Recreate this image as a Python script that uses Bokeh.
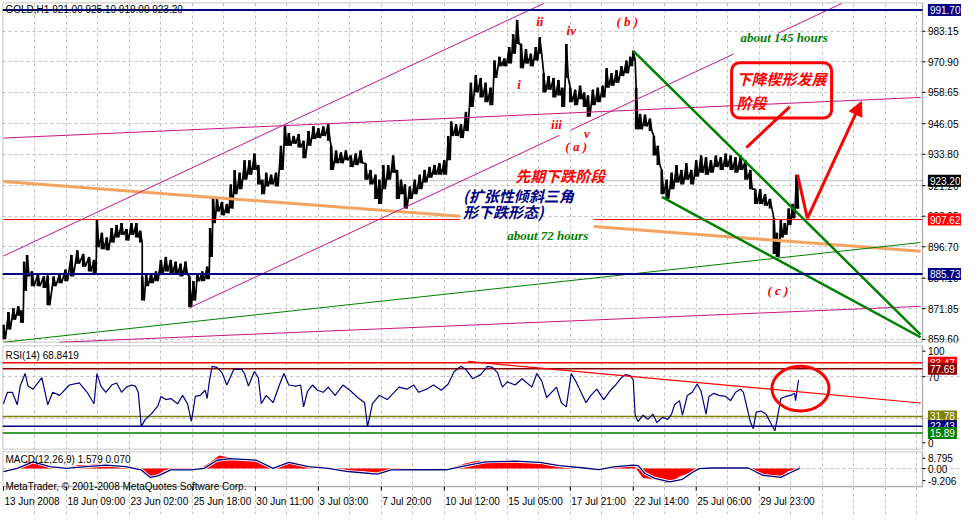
from bokeh.plotting import figure
from bokeh.layouts import column
from bokeh.models import Range1d, FixedTicker, Label, Arrow, NormalHead, BoxAnnotation
from bokeh.embed import file_html
from bokeh.resources import INLINE

# ---------------- data ----------------
# bar index (1 = one H1 bar), high / low of the price cloud
bar_idx = [0, 5, 10, 15, 18, 21, 24, 29, 35, 41,
           45, 51, 57, 63, 69, 75, 81, 87, 92, 95,
           100, 105, 110, 115, 120, 125, 130, 135, 139, 141,
           145, 150, 155, 160, 165, 170, 175, 180, 185, 189,
           193, 197, 202, 207, 210, 213, 217, 222, 227, 231,
           235, 240, 245, 250, 255, 259, 263, 267, 272, 277,
           282, 286, 290, 295, 300, 305, 310, 315, 320, 325,
           330, 333, 338, 343, 348, 353, 358, 363, 368, 373,
           378, 382, 386, 391, 396, 400, 404, 408, 413, 418,
           423, 428, 433, 438, 443, 448, 452, 455, 460, 465,
           470, 475, 480, 485, 490, 495, 499, 504, 509, 514,
           518, 522, 526, 531, 536, 541, 545, 549, 554, 559,
           564, 568, 572, 576, 581, 586, 590, 594, 599, 604,
           609, 613, 618, 623, 628, 633, 637, 640, 643, 647,
           652, 657, 661, 665, 669, 674, 679, 684, 689, 694,
           699, 704, 709, 714, 719, 724, 729, 734, 739, 744,
           749, 754, 759, 764, 769, 774, 779, 783, 786, 790,
           794, 798, 802, 806]
bar_high = [865.4, 870.5, 872.0, 872.8, 871.2, 890.7, 893.4, 886.8, 885.6, 884.8,
            885.2, 884.8, 885.6, 887.5, 893.4, 895.3, 893.8, 892.6, 891.4, 907.3,
            902.3, 900.4, 904.2, 905.4, 906.2, 903.8, 906.2, 906.2, 903.1, 884.8,
            885.6, 886.0, 886.8, 891.4, 892.6, 891.4, 890.7, 889.9, 890.7, 884.8,
            882.9, 886.0, 886.8, 888.7, 904.2, 916.7, 915.9, 914.7, 913.9, 921.7,
            927.5, 926.4, 931.4, 931.4, 934.1, 929.5, 923.6, 926.4, 925.6, 926.4,
            937.2, 945.0, 942.3, 941.1, 941.9, 939.2, 943.1, 945.0, 944.2, 945.0,
            945.8, 937.2, 935.3, 934.5, 935.3, 933.3, 934.1, 935.3, 930.2, 927.5,
            925.6, 923.6, 929.5, 929.5, 933.3, 927.5, 923.6, 921.7, 920.9, 923.6,
            925.6, 927.5, 928.7, 929.5, 930.2, 931.4, 941.1, 946.9, 945.8, 945.8,
            950.8, 962.5, 965.6, 964.4, 962.5, 960.5, 971.4, 972.9, 972.2, 976.8,
            981.9, 987.7, 978.0, 976.0, 974.1, 976.8, 980.7, 966.3, 965.2, 964.4,
            963.6, 960.5, 978.0, 960.5, 959.7, 961.3, 958.6, 957.4, 959.7, 960.5,
            961.3, 968.3, 966.3, 967.5, 969.1, 971.4, 972.9, 975.3, 960.5, 950.0,
            949.7, 948.1, 941.1, 937.2, 927.5, 923.6, 926.4, 929.5, 927.5, 930.2,
            927.5, 931.4, 933.3, 932.6, 931.4, 933.3, 932.6, 934.1, 933.3, 932.6,
            933.3, 931.4, 927.5, 919.8, 919.8, 917.8, 915.9, 908.1, 902.3, 907.3,
            906.2, 912.0, 913.9, 925.6]
bar_low = [859.6, 863.5, 867.4, 869.0, 866.2, 879.0, 884.8, 880.9, 880.9, 880.2,
           873.2, 880.9, 882.1, 882.9, 884.8, 889.9, 888.7, 886.8, 886.0, 896.5,
           895.7, 895.3, 898.4, 900.4, 901.5, 899.2, 901.5, 900.4, 898.4, 875.1,
           880.9, 882.1, 882.9, 885.6, 886.8, 886.0, 885.6, 884.8, 885.6, 872.4,
           875.1, 882.9, 882.9, 883.7, 892.6, 906.2, 910.8, 909.3, 910.1, 912.0,
           917.8, 919.8, 923.6, 925.6, 927.5, 921.7, 917.8, 920.9, 921.7, 920.9,
           927.5, 937.2, 937.2, 938.0, 936.5, 932.2, 937.2, 939.9, 940.3, 941.1,
           939.2, 927.5, 930.2, 930.2, 931.4, 928.7, 929.5, 930.2, 923.6, 921.7,
           915.9, 913.9, 919.8, 923.6, 926.4, 915.9, 917.8, 912.0, 915.9, 917.8,
           919.8, 922.5, 924.4, 925.6, 925.6, 925.6, 931.4, 941.1, 941.1, 940.3,
           943.1, 952.8, 958.6, 956.6, 954.7, 953.5, 964.4, 969.1, 969.1, 970.2,
           974.1, 978.0, 968.3, 970.2, 969.1, 971.4, 974.1, 958.6, 959.7, 956.6,
           957.4, 952.8, 964.4, 954.7, 953.5, 955.9, 952.8, 948.9, 953.5, 954.7,
           956.6, 960.5, 961.3, 962.5, 965.2, 966.3, 969.1, 971.4, 943.8, 943.8,
           945.0, 943.1, 933.3, 929.5, 917.8, 915.9, 919.8, 922.5, 921.7, 923.6,
           921.7, 924.8, 926.4, 925.6, 926.4, 928.7, 927.5, 928.7, 927.5, 926.4,
           927.5, 923.6, 919.8, 913.9, 913.9, 913.2, 912.0, 893.8, 892.6, 900.4,
           901.5, 905.4, 908.1, 912.0]
last_bar = 807
last_close = 923.20

price_ticks = [983.15, 970.90, 958.65, 946.05, 933.80, 921.20, 908.95, 896.70, 884.10, 871.85, 859.60]

# drawn objects (bar0, price0, bar1, price1)
magenta_lines = [(0, 893.0, 549, 994.3),
                 (190, 872.4, 565, 941.4), (577, 943.6, 742, 974.0), (787, 982.3, 852, 994.3),
                 (0, 940.3, 932, 956.6),
                 (57, 858.4, 932, 872.8)]
green_thin = [(0, 858.4, 932, 898.4)]
green_wedge = [(640, 975.3, 932, 861.5), (669, 916.7, 932, 860.4)]
orange_lines = [(0, 922.9, 464, 908.9), (600, 904.8, 932, 894.9)]
red_level = 907.62
red_level_parts = [(0, 464), (600, 934)]
navy_levels = [991.70, 885.73]

# RSI(14)
rsi_idx = [0, 4, 9, 14, 17, 22, 25, 30, 39, 42, 45, 50, 57, 67, 77, 85, 92, 95, 99, 104,
           110, 115, 120, 125, 130, 134, 137, 140, 144, 150, 157, 160, 165, 170, 177, 182, 187, 191, 195, 200,
           205, 207, 209, 212, 217, 222, 227, 234, 242, 245, 249, 255, 259, 262, 267, 274, 280, 285, 290, 297,
           302, 305, 309, 314, 319, 325, 330, 337, 345, 352, 360, 367, 370, 375, 382, 390, 397, 402, 410, 417,
           422, 430, 437, 445, 452, 458, 465, 470, 477, 485, 492, 497, 502, 507, 512, 520, 527, 537, 542, 547,
           552, 557, 562, 567, 572, 577, 582, 587, 592, 597, 603, 610, 617, 622, 627, 632, 637, 640, 642, 645,
           650, 655, 660, 664, 670, 675, 679, 682, 687, 690, 695, 700, 705, 709, 714, 717, 722, 727, 734, 739,
           744, 749, 752, 755, 759, 762, 765, 770, 775, 780, 784, 787, 790, 795, 800, 804, 805, 808]
rsi_val = [44, 55, 55, 43, 61, 73, 61, 58, 69, 56, 43, 55, 52, 62, 64, 55, 44, 73, 61, 55,
           62, 64, 55, 60, 62, 61, 55, 22, 29, 34, 42, 51, 48, 49, 44, 52, 44, 27, 51, 52,
           57, 49, 64, 80, 79, 74, 62, 77, 77, 73, 61, 75, 69, 44, 52, 45, 61, 73, 62, 61,
           62, 41, 56, 62, 57, 55, 60, 52, 62, 57, 50, 45, 22, 44, 52, 48, 55, 60, 58, 62,
           55, 58, 62, 57, 63, 75, 80, 77, 68, 72, 80, 79, 74, 60, 65, 62, 68, 60, 73, 66,
           50, 55, 60, 45, 41, 73, 65, 55, 45, 52, 58, 48, 57, 62, 68, 72, 71, 67, 33, 27,
           33, 29, 34, 26, 31, 29, 34, 43, 47, 33, 52, 55, 63, 56, 34, 51, 54, 52, 51, 47,
           55, 58, 55, 43, 27, 20, 36, 37, 34, 25, 18, 33, 49, 51, 52, 54, 47, 67]
rsi_levels = [(83.47, "#ff0000"), (77.69, "#8b0000"), (31.78, "#808000"), (22.43, "#000080"), (15.89, "#008000")]
rsi_ticks = [(94.5, "100"), (70, "70"), (6.5, "0")]
rsi_trend = (472, 84.7, 932, 44.7)
rsi_circle = (810, 58.6, 58, 43)

# MACD(12,26,9)
macd_idx = [0, 17, 24, 30, 40, 54, 64, 77, 87, 97, 104, 117, 130, 139, 144, 150, 157, 164, 184, 192,
            200, 210, 219, 227, 237, 254, 264, 274, 287, 297, 307, 320, 330, 347, 364, 380, 394, 410, 430, 450,
            462, 472, 482, 497, 512, 527, 542, 557, 572, 587, 597, 609, 614, 620, 630, 637, 640, 645, 650, 664,
            674, 680, 687, 697, 704, 715, 735, 757, 760, 767, 777, 785, 790, 797, 807, 809]
macd_val = [0.1, 0.1, 3.5, 3.2, 1.5, 0.5, 0.5, 1.8, 1.8, 2.5, 2.2, 1.0, 1.0, 0.1, -3.2, -5.2, -3.2, -0.7, -0.2, -1.5,
            0.1, 3.2, 6.8, 6.0, 4.8, 4.3, 1.8, 0.1, 3.5, 3.2, 1.0, 1.5, 0.1, -1.5, -1.2, -2.8, -0.7, -0.5, -1.0, -0.3,
            1.5, 3.0, 4.0, 3.5, 4.5, 4.0, 3.0, 1.5, 0.5, 0.2, -0.5, -0.5, 0.6, 1.3, 1.6, 1.8, 2.2, -1.5, -4.8, -5.7,
            -7.4, -6.5, -4.0, -2.2, 0.1, 0.5, 0.5, 0.5, -0.7, -3.2, -3.2, -4.8, -4.0, -1.5, 0.1, 1.6]
signal_idx = [0, 14, 30, 47, 64, 84, 104, 124, 140, 149, 157, 170, 190, 204, 217, 230, 257, 274, 290, 310,
              330, 350, 380, 394, 420, 450, 470, 490, 520, 545, 565, 590, 605, 620, 640, 645, 652, 662, 677, 690,
              700, 707, 720, 757, 764, 772, 782, 790, 800, 809]
signal_val = [-1.5, 0.1, 3.5, 1.0, 0.1, 1.0, 1.8, 1.0, -0.7, -4.5, -3.7, -0.7, -0.7, 0.1, 4.3, 5.1, 4.3, 0.1, 3.2, 1.0,
              0.1, -1.5, -2.8, -0.7, -0.5, -0.6, 1.5, 3.5, 3.8, 3.2, 1.5, 0.3, -0.5, 0.9, 1.8, 1.5, -2.5, -5.0, -6.8, -5.5,
              -2.0, 0.0, 0.3, 0.3, -1.5, -3.5, -4.0, -4.5, -2.0, 0.1]
macd_ticks = [(5.3, "8.795"), (0, "0.00"), (-6.2, "-9.206")]

time_ticks = [0, 64, 128, 192, 256, 320, 384, 448, 512, 576, 640, 704, 768]
time_labels = ["13 Jun 2008", "18 Jun 09:00", "23 Jun 02:00", "25 Jun 18:00", "30 Jun 11:00",
               "3 Jul 03:00", "7 Jul 20:00", "10 Jul 12:00", "15 Jul 05:00", "17 Jul 21:00",
               "22 Jul 14:00", "25 Jul 06:00", "29 Jul 23:00"]

# ---------------- styling ----------------
FONT = "Liberation Sans"
SER = "Liberation Serif"
CJK = "Noto Sans CJK SC"
GRID = "#c0c0c0"
FW = 959                     # frame incl. the price-scale strip
XEND = 934                   # right edge of the data area (bars)
PXB = 920 / 935              # pixels per bar
xr = Range1d(-1, -1 + FW / PXB)
grid_x = list(range(32, 934, 32))

MAIN_Y = (858.3, 994.68)
RSI_Y = (0, 100)
MACD_Y = (-9.206, 8.795)
MACD_AX = 14.4               # room below the MACD data area for the time scale (value units)


def base(fh, y0, y1, top, bottom, data_y0=None):
    d0 = y0 if data_y0 is None else data_y0
    p = figure(frame_width=FW, frame_height=fh, x_range=xr, y_range=Range1d(y0, y1),
               output_backend="svg", toolbar_location=None,
               x_axis_location=None, y_axis_location=None,
               min_border_left=2, min_border_right=0, min_border_top=top, min_border_bottom=bottom)
    p.background_fill_color = "white"
    p.border_fill_color = "white"
    p.outline_line_color = None
    p.xgrid.ticker = FixedTicker(ticks=grid_x)
    p.xgrid.bounds = (d0, y1)
    p.xgrid.grid_line_color = GRID
    p.xgrid.grid_line_dash = "3 3"
    p.ygrid.bounds = (-1, XEND)
    p.ygrid.grid_line_color = GRID
    p.ygrid.grid_line_dash = "3 3"
    p.add_layout(BoxAnnotation(left=-1, right=XEND, bottom=d0, top=y1, fill_alpha=0,
                               line_color="black", line_width=1.5))
    return p


def scale_label(p, y, text, bg=None):
    kw = dict(x=XEND + 5.5, y=y, text=text, text_align="left", text_baseline="middle",
              text_font=FONT, text_font_size="10px")
    if bg is None:
        p.add_layout(Label(text_color="black", **kw))
    else:
        p.add_layout(Label(text_color="white", background_fill_color=bg, padding=2, **kw))


def scale_ticks(p, values):
    p.segment(x0=[XEND] * len(values), x1=[XEND + 3] * len(values), y0=values, y1=values,
              line_color="black", line_width=1)


def txt(p, x, y, text, color, size, font, style="bold italic", align="left"):
    p.add_layout(Label(x=x, y=y, text=text, text_align=align, text_baseline="middle",
                       text_font=font, text_font_size=size, text_font_style=style, text_color=color))


def draw_lines(p, lines, color, width):
    p.segment(x0=[l[0] for l in lines], y0=[l[1] for l in lines],
              x1=[l[2] for l in lines], y1=[l[3] for l in lines],
              line_color=color, line_width=width)


# ---------------- main price panel ----------------
p1 = base(340, MAIN_Y[0], MAIN_Y[1], 2, 2)
p1.ygrid.ticker = FixedTicker(ticks=price_ticks)

draw_lines(p1, [(-1, last_close, XEND, last_close)], GRID, 1)   # bid line

# price bars
zx, zy = [], []
for b, h, l in zip(bar_idx, bar_high, bar_low):
    zx += [b, b + 2]
    zy += [h, l]
p1.line(zx, zy, line_color="black", line_width=1.7)
p1.segment(x0=bar_idx, y0=bar_low, x1=bar_idx, y1=bar_high, line_color="black", line_width=2.6)
p1.segment(x0=[last_bar], y0=[bar_low[-1]], x1=[last_bar], y1=[last_close], line_color="black", line_width=2)

draw_lines(p1, orange_lines, "#f4a460", 3)
draw_lines(p1, [(a, red_level, b, red_level) for a, b in red_level_parts], "#ff0000", 1)
draw_lines(p1, magenta_lines, "#c71585", 1)
draw_lines(p1, green_thin, "#008000", 1)
draw_lines(p1, green_wedge, "#008000", 2.5)
draw_lines(p1, [(-1, lv, XEND, lv) for lv in navy_levels], "#000080", 2)

# red hand-drawn arrows
p1.line([799, 755], [952.8, 936.5], line_color="red", line_width=3)
p1.line([807, 817], [925.6, 908.1], line_color="red", line_width=3)
p1.add_layout(Arrow(end=NormalHead(size=14, fill_color="red", line_color="red"),
                    x_start=817, y_start=908.1, x_end=872, y_end=955.0,
                    line_color="red", line_width=3))

# texts
txt(p1, 2, 991.7, "GOLD,H1  921.00 925.10 919.00 923.20", "black", "10px", FONT, style="normal")
for x, y, t in [(545, 986.9, "ii"), (577, 983.4, "iv"), (634, 986.9, "( b )"), (524, 961.7, "i"),
                (562, 945.8, "iii"), (593, 942.3, "v"), (582, 936.8, "( a )"), (787, 879.0, "( c )")]:
    txt(p1, x, y, t, "#ff0000", "13px", SER, align="center")
txt(p1, 520, 925.2, "先期下跌阶段", "#ff0000", "15px", CJK)
txt(p1, 467, 917.4, "(扩张性倾斜三角", "#000080", "15px", CJK)
txt(p1, 467, 910.8, "形下跌形态)", "#000080", "15px", CJK)
txt(p1, 512, 901.1, "about  72 hours", "#008000", "13px", SER)
txt(p1, 749, 980.7, "about 145 hours", "#008000", "13px", SER)
p1.add_layout(Label(x=740, y=970.5, text="下降楔形发展\n阶段", text_align="left", text_baseline="top",
                    text_font=CJK, text_font_size="15px", text_font_style="bold italic",
                    text_color="#ff0000", border_line_color="#ff0000", border_line_width=3,
                    border_radius=8, padding=5, text_line_height=1.15))

# price scale
scale_ticks(p1, price_ticks)
for v in price_ticks:
    scale_label(p1, v, f"{v:.2f}")
scale_label(p1, 991.70, "991.70", "#000080")
scale_label(p1, last_close, "923.20", "black")
scale_label(p1, red_level, "907.62", "#ff0000")
scale_label(p1, 885.73, "885.73", "#000080")

# ---------------- RSI panel ----------------
p2 = base(104, RSI_Y[0], RSI_Y[1], 1, 1)
p2.ygrid.ticker = FixedTicker(ticks=[70, 30])
for lv, c in rsi_levels:
    draw_lines(p2, [(-1, lv, XEND, lv)], c, 1.5)
p2.line(rsi_idx, rsi_val, line_color="#000080", line_width=1.2)
p2.line([rsi_trend[0], rsi_trend[2]], [rsi_trend[1], rsi_trend[3]], line_color="#ff0000", line_width=1.2)
p2.ellipse(x=[rsi_circle[0]], y=[rsi_circle[1]], width=[rsi_circle[2]], height=[rsi_circle[3]],
           fill_alpha=0, line_color="#ff0000", line_width=3)
txt(p2, 2, 90.5, "RSI(14) 68.8419", "black", "10px", FONT, style="normal")
scale_ticks(p2, [v for v, _ in rsi_ticks])
for v, t in rsi_ticks:
    scale_label(p2, v, t)
for lv, c in rsi_levels:
    scale_label(p2, lv, f"{lv:.2f}", c)

# ---------------- MACD panel + time scale ----------------
p3 = base(35 + 28, MACD_Y[0] - MACD_AX, MACD_Y[1], 1, 0, data_y0=MACD_Y[0])
p3.ygrid.ticker = FixedTicker(ticks=[0])
p3.varea(x=macd_idx, y1=[0] * len(macd_idx), y2=macd_val, fill_color="#ff0000")
p3.line(signal_idx, signal_val, line_color="white", line_width=3)
p3.line(signal_idx, signal_val, line_color="#000080", line_width=1.3)
txt(p3, 2, 4.6, "MACD(12,26,9) 1.579 0.070", "black", "10px", FONT, style="normal")
txt(p3, 2, MACD_Y[0], "MetaTrader, \u00a9 2001-2008 MetaQuotes Software Corp.", "black", "10px", FONT,
    style="normal")
scale_ticks(p3, [v for v, _ in macd_ticks])
for v, t in macd_ticks:
    scale_label(p3, v, t)

# time scale
p3.segment(x0=time_ticks, x1=time_ticks, y0=[MACD_Y[0]] * len(time_ticks),
           y1=[MACD_Y[0] - 2.2] * len(time_ticks), line_color="black", line_width=1)
for t, lab in zip(time_ticks, time_labels):
    p3.add_layout(Label(x=t + 1, y=MACD_Y[0] - 7.6, text=lab, text_align="left", text_baseline="middle",
                        text_font=FONT, text_font_size="10px", text_color="black"))

layout = column(p1, p2, p3, spacing=0)
open("out.html", "w").write(file_html(layout, INLINE))
